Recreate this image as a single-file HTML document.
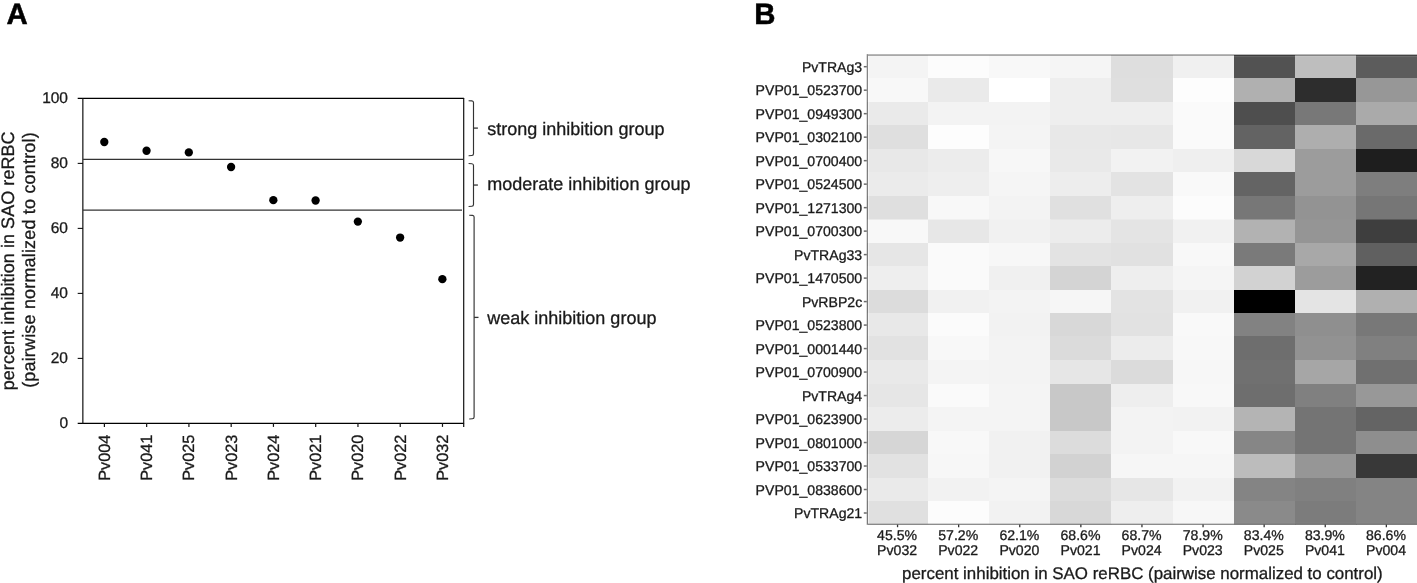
<!DOCTYPE html>
<html><head><meta charset="utf-8"><title>Figure</title>
<style>html,body{margin:0;padding:0;background:#fff;}body{width:1417px;height:583px;overflow:hidden;}svg{display:block;}text{font-family:"Liberation Sans",sans-serif;fill:#1a1a1a;stroke:#1a1a1a;stroke-width:0.3px;text-rendering:geometricPrecision;}.t18{font-size:18px}.t16{font-size:15.5px}.t14{font-size:14.1px}.t17{font-size:16.9px}.b{font-size:29.4px;font-weight:bold;fill:#000;stroke:#000;stroke-width:0.5px}</style></head><body>
<svg width="1417" height="583" viewBox="0 0 1417 583">
<rect width="1417" height="583" fill="#fff"/>
<text class="b" x="6.4" y="24.2">A</text>
<text class="b" x="754.2" y="24.2">B</text>
<g stroke="#000" stroke-width="1.25" fill="none">
<path d="M77.7 98.4 H464.1"/>
<path d="M77.7 423.4 H464.1"/>
</g>
<g stroke="#111" stroke-width="1.2" fill="none">
<path d="M82.85 98 V424"/>
<path d="M463.7 98 V426.9"/>
<path d="M77.7 358.40 H83" stroke-width="1.1"/>
<path d="M77.7 293.40 H83" stroke-width="1.1"/>
<path d="M77.7 228.40 H83" stroke-width="1.1"/>
<path d="M77.7 163.40 H83" stroke-width="1.1"/>
<path d="M104.40 423 V426.9"/>
<path d="M146.66 423 V426.9"/>
<path d="M188.92 423 V426.9"/>
<path d="M231.18 423 V426.9"/>
<path d="M273.44 423 V426.9"/>
<path d="M315.70 423 V426.9"/>
<path d="M357.96 423 V426.9"/>
<path d="M400.22 423 V426.9"/>
<path d="M442.48 423 V426.9"/>
</g>
<g stroke="#333" stroke-width="1.2" fill="none">
<path d="M83 159.4 H463.5"/>
<path d="M83 210.05 H462"/>
</g>
<g stroke="#333" stroke-width="1.15" fill="none">
<path d="M468.6 100.7 L471.9 100.9 Q473.5 101.0 473.5 102.6 V153.8 Q473.5 155.4 471.9 155.5 L468.6 155.7"/><path stroke-width="1.3" d="M473.5 128.10 H477.9"/>
<path d="M468.6 163.5 L471.9 163.7 Q473.5 163.8 473.5 165.4 V204.6 Q473.5 206.2 471.9 206.3 L468.6 206.5"/><path stroke-width="1.3" d="M473.5 185.05 H477.9"/>
<path d="M469.2 215.2 L472.5 215.4 Q474.1 215.5 474.1 217.1 V417.1 Q474.1 418.7 472.5 418.8 L469.2 419.0"/><path stroke-width="1.3" d="M474.1 317.40 H478.5"/>
</g>
<g fill="#000">
<circle cx="104.30" cy="142.00" r="4.15"/>
<circle cx="146.56" cy="150.77" r="4.15"/>
<circle cx="188.82" cy="152.40" r="4.15"/>
<circle cx="231.08" cy="167.02" r="4.15"/>
<circle cx="273.34" cy="200.17" r="4.15"/>
<circle cx="315.60" cy="200.50" r="4.15"/>
<circle cx="357.86" cy="221.62" r="4.15"/>
<circle cx="400.12" cy="237.55" r="4.15"/>
<circle cx="442.38" cy="279.15" r="4.15"/>
</g>
<text class="t16" x="68.0" y="428.05" text-anchor="end">0</text>
<text class="t16" x="68.0" y="363.05" text-anchor="end">20</text>
<text class="t16" x="68.0" y="298.05" text-anchor="end">40</text>
<text class="t16" x="68.0" y="233.05" text-anchor="end">60</text>
<text class="t16" x="68.0" y="168.05" text-anchor="end">80</text>
<text class="t16" x="68.0" y="103.05" text-anchor="end">100</text>
<text style="font-size:16.3px" transform="translate(109.90 434.6) rotate(-90)" text-anchor="end">Pv004</text>
<text style="font-size:16.3px" transform="translate(152.16 434.6) rotate(-90)" text-anchor="end">Pv041</text>
<text style="font-size:16.3px" transform="translate(194.42 434.6) rotate(-90)" text-anchor="end">Pv025</text>
<text style="font-size:16.3px" transform="translate(236.68 434.6) rotate(-90)" text-anchor="end">Pv023</text>
<text style="font-size:16.3px" transform="translate(278.94 434.6) rotate(-90)" text-anchor="end">Pv024</text>
<text style="font-size:16.3px" transform="translate(321.20 434.6) rotate(-90)" text-anchor="end">Pv021</text>
<text style="font-size:16.3px" transform="translate(363.46 434.6) rotate(-90)" text-anchor="end">Pv020</text>
<text style="font-size:16.3px" transform="translate(405.72 434.6) rotate(-90)" text-anchor="end">Pv022</text>
<text style="font-size:16.3px" transform="translate(447.98 434.6) rotate(-90)" text-anchor="end">Pv032</text>
<text class="t18" transform="translate(13.7 260.85) rotate(-90)" text-anchor="middle" textLength="258.85">percent inhibition in SAO reRBC</text>
<text class="t18" transform="translate(34.8 260.1) rotate(-90)" text-anchor="middle" textLength="255.55">(pairwise normalized to control)</text>
<text class="t18" x="487.3" y="135.4">strong inhibition group</text>
<text class="t18" x="487.3" y="189.7">moderate inhibition group</text>
<text class="t18" x="487.3" y="323.5">weak inhibition group</text>
<g>
<rect x="867" y="55" width="62" height="24" fill="#F4F4F4"/>
<rect x="928" y="55" width="62" height="24" fill="#FCFCFC"/>
<rect x="989" y="55" width="62" height="24" fill="#F8F8F8"/>
<rect x="1050" y="55" width="62" height="24" fill="#F5F5F5"/>
<rect x="1111" y="55" width="63" height="24" fill="#DEDEDE"/>
<rect x="1173" y="55" width="62" height="24" fill="#F0F0F0"/>
<rect x="1234" y="55" width="62" height="24" fill="#525252"/>
<rect x="1295" y="55" width="62" height="24" fill="#BEBEBE"/>
<rect x="1356" y="55" width="62" height="24" fill="#5C5C5C"/>
<rect x="867" y="78" width="62" height="25" fill="#F8F8F8"/>
<rect x="928" y="78" width="62" height="25" fill="#EAEAEA"/>
<rect x="989" y="78" width="62" height="25" fill="#FFFFFF"/>
<rect x="1050" y="78" width="62" height="25" fill="#EEEEEE"/>
<rect x="1111" y="78" width="63" height="25" fill="#DFDFDF"/>
<rect x="1173" y="78" width="62" height="25" fill="#FDFDFD"/>
<rect x="1234" y="78" width="62" height="25" fill="#B0B0B0"/>
<rect x="1295" y="78" width="62" height="25" fill="#2D2D2D"/>
<rect x="1356" y="78" width="62" height="25" fill="#979797"/>
<rect x="867" y="102" width="62" height="24" fill="#EAEAEA"/>
<rect x="928" y="102" width="62" height="24" fill="#F3F3F3"/>
<rect x="989" y="102" width="62" height="24" fill="#F3F3F3"/>
<rect x="1050" y="102" width="62" height="24" fill="#EEEEEE"/>
<rect x="1111" y="102" width="63" height="24" fill="#EEEEEE"/>
<rect x="1173" y="102" width="62" height="24" fill="#FAFAFA"/>
<rect x="1234" y="102" width="62" height="24" fill="#4E4E4E"/>
<rect x="1295" y="102" width="62" height="24" fill="#787878"/>
<rect x="1356" y="102" width="62" height="24" fill="#AAAAAA"/>
<rect x="867" y="125" width="62" height="25" fill="#DFDFDF"/>
<rect x="928" y="125" width="62" height="25" fill="#FDFDFD"/>
<rect x="989" y="125" width="62" height="25" fill="#F4F4F4"/>
<rect x="1050" y="125" width="62" height="25" fill="#E8E8E8"/>
<rect x="1111" y="125" width="63" height="25" fill="#E7E7E7"/>
<rect x="1173" y="125" width="62" height="25" fill="#FAFAFA"/>
<rect x="1234" y="125" width="62" height="25" fill="#636363"/>
<rect x="1295" y="125" width="62" height="25" fill="#AEAEAE"/>
<rect x="1356" y="125" width="62" height="25" fill="#6A6A6A"/>
<rect x="867" y="149" width="62" height="24" fill="#E8E8E8"/>
<rect x="928" y="149" width="62" height="24" fill="#ECECEC"/>
<rect x="989" y="149" width="62" height="24" fill="#F7F7F7"/>
<rect x="1050" y="149" width="62" height="24" fill="#E9E9E9"/>
<rect x="1111" y="149" width="63" height="24" fill="#F2F2F2"/>
<rect x="1173" y="149" width="62" height="24" fill="#EFEFEF"/>
<rect x="1234" y="149" width="62" height="24" fill="#D8D8D8"/>
<rect x="1295" y="149" width="62" height="24" fill="#9C9C9C"/>
<rect x="1356" y="149" width="62" height="24" fill="#1E1E1E"/>
<rect x="867" y="172" width="62" height="25" fill="#EBEBEB"/>
<rect x="928" y="172" width="62" height="25" fill="#EEEEEE"/>
<rect x="989" y="172" width="62" height="25" fill="#F5F5F5"/>
<rect x="1050" y="172" width="62" height="25" fill="#EDEDED"/>
<rect x="1111" y="172" width="63" height="25" fill="#E3E3E3"/>
<rect x="1173" y="172" width="62" height="25" fill="#F9F9F9"/>
<rect x="1234" y="172" width="62" height="25" fill="#646464"/>
<rect x="1295" y="172" width="62" height="25" fill="#9C9C9C"/>
<rect x="1356" y="172" width="62" height="25" fill="#7E7E7E"/>
<rect x="867" y="196" width="62" height="24.5" fill="#DFDFDF"/>
<rect x="928" y="196" width="62" height="24.5" fill="#F8F8F8"/>
<rect x="989" y="196" width="62" height="24.5" fill="#F3F3F3"/>
<rect x="1050" y="196" width="62" height="24.5" fill="#E0E0E0"/>
<rect x="1111" y="196" width="63" height="24.5" fill="#EEEEEE"/>
<rect x="1173" y="196" width="62" height="24.5" fill="#FCFCFC"/>
<rect x="1234" y="196" width="62" height="24.5" fill="#777777"/>
<rect x="1295" y="196" width="62" height="24.5" fill="#939393"/>
<rect x="1356" y="196" width="62" height="24.5" fill="#767676"/>
<rect x="867" y="219.5" width="62" height="24.5" fill="#F8F8F8"/>
<rect x="928" y="219.5" width="62" height="24.5" fill="#E7E7E7"/>
<rect x="989" y="219.5" width="62" height="24.5" fill="#F1F1F1"/>
<rect x="1050" y="219.5" width="62" height="24.5" fill="#ECECEC"/>
<rect x="1111" y="219.5" width="63" height="24.5" fill="#E4E4E4"/>
<rect x="1173" y="219.5" width="62" height="24.5" fill="#F1F1F1"/>
<rect x="1234" y="219.5" width="62" height="24.5" fill="#B2B2B2"/>
<rect x="1295" y="219.5" width="62" height="24.5" fill="#959595"/>
<rect x="1356" y="219.5" width="62" height="24.5" fill="#3E3E3E"/>
<rect x="867" y="243" width="62" height="24" fill="#E6E6E6"/>
<rect x="928" y="243" width="62" height="24" fill="#FAFAFA"/>
<rect x="989" y="243" width="62" height="24" fill="#F7F7F7"/>
<rect x="1050" y="243" width="62" height="24" fill="#E3E3E3"/>
<rect x="1111" y="243" width="63" height="24" fill="#E1E1E1"/>
<rect x="1173" y="243" width="62" height="24" fill="#F8F8F8"/>
<rect x="1234" y="243" width="62" height="24" fill="#7A7A7A"/>
<rect x="1295" y="243" width="62" height="24" fill="#A8A8A8"/>
<rect x="1356" y="243" width="62" height="24" fill="#606060"/>
<rect x="867" y="266" width="62" height="25" fill="#EEEEEE"/>
<rect x="928" y="266" width="62" height="25" fill="#FAFAFA"/>
<rect x="989" y="266" width="62" height="25" fill="#F0F0F0"/>
<rect x="1050" y="266" width="62" height="25" fill="#D4D4D4"/>
<rect x="1111" y="266" width="63" height="25" fill="#EEEEEE"/>
<rect x="1173" y="266" width="62" height="25" fill="#F5F5F5"/>
<rect x="1234" y="266" width="62" height="25" fill="#D2D2D2"/>
<rect x="1295" y="266" width="62" height="25" fill="#9C9C9C"/>
<rect x="1356" y="266" width="62" height="25" fill="#222222"/>
<rect x="867" y="290" width="62" height="24" fill="#DCDCDC"/>
<rect x="928" y="290" width="62" height="24" fill="#F1F1F1"/>
<rect x="989" y="290" width="62" height="24" fill="#F3F3F3"/>
<rect x="1050" y="290" width="62" height="24" fill="#F6F6F6"/>
<rect x="1111" y="290" width="63" height="24" fill="#E3E3E3"/>
<rect x="1173" y="290" width="62" height="24" fill="#F1F1F1"/>
<rect x="1234" y="290" width="62" height="24" fill="#000000"/>
<rect x="1295" y="290" width="62" height="24" fill="#E4E4E4"/>
<rect x="1356" y="290" width="62" height="24" fill="#B0B0B0"/>
<rect x="867" y="313" width="62" height="24" fill="#E8E8E8"/>
<rect x="928" y="313" width="62" height="24" fill="#FBFBFB"/>
<rect x="989" y="313" width="62" height="24" fill="#F2F2F2"/>
<rect x="1050" y="313" width="62" height="24" fill="#D8D8D8"/>
<rect x="1111" y="313" width="63" height="24" fill="#E2E2E2"/>
<rect x="1173" y="313" width="62" height="24" fill="#F9F9F9"/>
<rect x="1234" y="313" width="62" height="24" fill="#828282"/>
<rect x="1295" y="313" width="62" height="24" fill="#8F8F8F"/>
<rect x="1356" y="313" width="62" height="24" fill="#787878"/>
<rect x="867" y="336" width="62" height="25" fill="#E2E2E2"/>
<rect x="928" y="336" width="62" height="25" fill="#F8F8F8"/>
<rect x="989" y="336" width="62" height="25" fill="#F3F3F3"/>
<rect x="1050" y="336" width="62" height="25" fill="#DBDBDB"/>
<rect x="1111" y="336" width="63" height="25" fill="#ECECEC"/>
<rect x="1173" y="336" width="62" height="25" fill="#F8F8F8"/>
<rect x="1234" y="336" width="62" height="25" fill="#6E6E6E"/>
<rect x="1295" y="336" width="62" height="25" fill="#929292"/>
<rect x="1356" y="336" width="62" height="25" fill="#808080"/>
<rect x="867" y="360" width="62" height="25" fill="#E9E9E9"/>
<rect x="928" y="360" width="62" height="25" fill="#F4F4F4"/>
<rect x="989" y="360" width="62" height="25" fill="#F3F3F3"/>
<rect x="1050" y="360" width="62" height="25" fill="#E6E6E6"/>
<rect x="1111" y="360" width="63" height="25" fill="#DBDBDB"/>
<rect x="1173" y="360" width="62" height="25" fill="#F7F7F7"/>
<rect x="1234" y="360" width="62" height="25" fill="#707070"/>
<rect x="1295" y="360" width="62" height="25" fill="#A6A6A6"/>
<rect x="1356" y="360" width="62" height="25" fill="#707070"/>
<rect x="867" y="384" width="62" height="24" fill="#E6E6E6"/>
<rect x="928" y="384" width="62" height="24" fill="#FAFAFA"/>
<rect x="989" y="384" width="62" height="24" fill="#F4F4F4"/>
<rect x="1050" y="384" width="62" height="24" fill="#C8C8C8"/>
<rect x="1111" y="384" width="63" height="24" fill="#EEEEEE"/>
<rect x="1173" y="384" width="62" height="24" fill="#F8F8F8"/>
<rect x="1234" y="384" width="62" height="24" fill="#6E6E6E"/>
<rect x="1295" y="384" width="62" height="24" fill="#808080"/>
<rect x="1356" y="384" width="62" height="24" fill="#989898"/>
<rect x="867" y="407" width="62" height="25" fill="#ECECEC"/>
<rect x="928" y="407" width="62" height="25" fill="#F4F4F4"/>
<rect x="989" y="407" width="62" height="25" fill="#F4F4F4"/>
<rect x="1050" y="407" width="62" height="25" fill="#C8C8C8"/>
<rect x="1111" y="407" width="63" height="25" fill="#F3F3F3"/>
<rect x="1173" y="407" width="62" height="25" fill="#F2F2F2"/>
<rect x="1234" y="407" width="62" height="25" fill="#B4B4B4"/>
<rect x="1295" y="407" width="62" height="25" fill="#747474"/>
<rect x="1356" y="407" width="62" height="25" fill="#646464"/>
<rect x="867" y="431" width="62" height="24" fill="#D6D6D6"/>
<rect x="928" y="431" width="62" height="24" fill="#F8F8F8"/>
<rect x="989" y="431" width="62" height="24" fill="#F1F1F1"/>
<rect x="1050" y="431" width="62" height="24" fill="#DCDCDC"/>
<rect x="1111" y="431" width="63" height="24" fill="#F3F3F3"/>
<rect x="1173" y="431" width="62" height="24" fill="#F8F8F8"/>
<rect x="1234" y="431" width="62" height="24" fill="#868686"/>
<rect x="1295" y="431" width="62" height="24" fill="#747474"/>
<rect x="1356" y="431" width="62" height="24" fill="#8E8E8E"/>
<rect x="867" y="454" width="62" height="25" fill="#E2E2E2"/>
<rect x="928" y="454" width="62" height="25" fill="#F7F7F7"/>
<rect x="989" y="454" width="62" height="25" fill="#F1F1F1"/>
<rect x="1050" y="454" width="62" height="25" fill="#D2D2D2"/>
<rect x="1111" y="454" width="63" height="25" fill="#F6F6F6"/>
<rect x="1173" y="454" width="62" height="25" fill="#F6F6F6"/>
<rect x="1234" y="454" width="62" height="25" fill="#BCBCBC"/>
<rect x="1295" y="454" width="62" height="25" fill="#969696"/>
<rect x="1356" y="454" width="62" height="25" fill="#383838"/>
<rect x="867" y="478" width="62" height="24" fill="#EAEAEA"/>
<rect x="928" y="478" width="62" height="24" fill="#F2F2F2"/>
<rect x="989" y="478" width="62" height="24" fill="#F4F4F4"/>
<rect x="1050" y="478" width="62" height="24" fill="#DCDCDC"/>
<rect x="1111" y="478" width="63" height="24" fill="#E6E6E6"/>
<rect x="1173" y="478" width="62" height="24" fill="#F2F2F2"/>
<rect x="1234" y="478" width="62" height="24" fill="#848484"/>
<rect x="1295" y="478" width="62" height="24" fill="#808080"/>
<rect x="1356" y="478" width="62" height="24" fill="#848484"/>
<rect x="867" y="501" width="62" height="23.3" fill="#E0E0E0"/>
<rect x="928" y="501" width="62" height="23.3" fill="#FCFCFC"/>
<rect x="989" y="501" width="62" height="23.3" fill="#F2F2F2"/>
<rect x="1050" y="501" width="62" height="23.3" fill="#D8D8D8"/>
<rect x="1111" y="501" width="63" height="23.3" fill="#EEEEEE"/>
<rect x="1173" y="501" width="62" height="23.3" fill="#F7F7F7"/>
<rect x="1234" y="501" width="62" height="23.3" fill="#8A8A8A"/>
<rect x="1295" y="501" width="62" height="23.3" fill="#7C7C7C"/>
<rect x="1356" y="501" width="62" height="23.3" fill="#848484"/>
</g>
<rect x="868" y="56" width="550" height="1.1" fill="#fff" fill-opacity="0.1"/>
<rect x="868" y="56" width="1" height="467.7" fill="#fff" fill-opacity="0.5"/>
<rect x="868" y="522.9" width="550" height="0.8" fill="#fff" fill-opacity="0.15"/>
<rect x="868" y="54.1" width="551" height="1.9" fill="#101010" fill-opacity="0.33"/>
<rect x="866.7" y="54.1" width="1.3" height="470.75" fill="#000" fill-opacity="0.46"/>
<rect x="868" y="523.7" width="551" height="1.15" fill="#414141" fill-opacity="0.7"/>
<g stroke="#6a6a6a" stroke-width="1.5" fill="none">
<path d="M863.8 66.70 H866.8"/>
<path d="M863.8 90.19 H866.8"/>
<path d="M863.8 113.67 H866.8"/>
<path d="M863.8 137.16 H866.8"/>
<path d="M863.8 160.66 H866.8"/>
<path d="M863.8 184.15 H866.8"/>
<path d="M863.8 207.64 H866.8"/>
<path d="M863.8 231.12 H866.8"/>
<path d="M863.8 254.61 H866.8"/>
<path d="M863.8 278.10 H866.8"/>
<path d="M863.8 301.59 H866.8"/>
<path d="M863.8 325.08 H866.8"/>
<path d="M863.8 348.57 H866.8"/>
<path d="M863.8 372.06 H866.8"/>
<path d="M863.8 395.55 H866.8"/>
<path d="M863.8 419.04 H866.8"/>
<path d="M863.8 442.53 H866.8"/>
<path d="M863.8 466.02 H866.8"/>
<path d="M863.8 489.51 H866.8"/>
<path d="M863.8 513.00 H866.8"/>
</g>
<g stroke="#333" stroke-width="1.3" fill="none">
<path d="M897.55 524.6 V527.2"/>
<path d="M958.65 524.6 V527.2"/>
<path d="M1019.75 524.6 V527.2"/>
<path d="M1080.85 524.6 V527.2"/>
<path d="M1141.95 524.6 V527.2"/>
<path d="M1203.05 524.6 V527.2"/>
<path d="M1264.15 524.6 V527.2"/>
<path d="M1325.25 524.6 V527.2"/>
<path d="M1386.35 524.6 V527.2"/>
</g>
<text class="t14" x="862.2" y="71.8" text-anchor="end">PvTRAg3</text>
<text class="t14" x="862.2" y="95.3" text-anchor="end">PVP01_0523700</text>
<text class="t14" x="862.2" y="118.8" text-anchor="end">PVP01_0949300</text>
<text class="t14" x="862.2" y="142.3" text-anchor="end">PVP01_0302100</text>
<text class="t14" x="862.2" y="165.8" text-anchor="end">PVP01_0700400</text>
<text class="t14" x="862.2" y="189.2" text-anchor="end">PVP01_0524500</text>
<text class="t14" x="862.2" y="212.7" text-anchor="end">PVP01_1271300</text>
<text class="t14" x="862.2" y="236.2" text-anchor="end">PVP01_0700300</text>
<text class="t14" x="862.2" y="259.7" text-anchor="end">PvTRAg33</text>
<text class="t14" x="862.2" y="283.2" text-anchor="end">PVP01_1470500</text>
<text class="t14" x="862.2" y="306.7" text-anchor="end">PvRBP2c</text>
<text class="t14" x="862.2" y="330.2" text-anchor="end">PVP01_0523800</text>
<text class="t14" x="862.2" y="353.7" text-anchor="end">PVP01_0001440</text>
<text class="t14" x="862.2" y="377.2" text-anchor="end">PVP01_0700900</text>
<text class="t14" x="862.2" y="400.7" text-anchor="end">PvTRAg4</text>
<text class="t14" x="862.2" y="424.1" text-anchor="end">PVP01_0623900</text>
<text class="t14" x="862.2" y="447.6" text-anchor="end">PVP01_0801000</text>
<text class="t14" x="862.2" y="471.1" text-anchor="end">PVP01_0533700</text>
<text class="t14" x="862.2" y="494.6" text-anchor="end">PVP01_0838600</text>
<text class="t14" x="862.2" y="518.1" text-anchor="end">PvTRAg21</text>
<text class="t14" x="897.1" y="540.2" text-anchor="middle">45.5%</text>
<text class="t14" x="897.1" y="554.6" text-anchor="middle">Pv032</text>
<text class="t14" x="958.2" y="540.2" text-anchor="middle">57.2%</text>
<text class="t14" x="958.2" y="554.6" text-anchor="middle">Pv022</text>
<text class="t14" x="1019.4" y="540.2" text-anchor="middle">62.1%</text>
<text class="t14" x="1019.4" y="554.6" text-anchor="middle">Pv020</text>
<text class="t14" x="1080.5" y="540.2" text-anchor="middle">68.6%</text>
<text class="t14" x="1080.5" y="554.6" text-anchor="middle">Pv021</text>
<text class="t14" x="1141.6" y="540.2" text-anchor="middle">68.7%</text>
<text class="t14" x="1141.6" y="554.6" text-anchor="middle">Pv024</text>
<text class="t14" x="1202.7" y="540.2" text-anchor="middle">78.9%</text>
<text class="t14" x="1202.7" y="554.6" text-anchor="middle">Pv023</text>
<text class="t14" x="1263.8" y="540.2" text-anchor="middle">83.4%</text>
<text class="t14" x="1263.8" y="554.6" text-anchor="middle">Pv025</text>
<text class="t14" x="1324.9" y="540.2" text-anchor="middle">83.9%</text>
<text class="t14" x="1324.9" y="554.6" text-anchor="middle">Pv041</text>
<text class="t14" x="1386.0" y="540.2" text-anchor="middle">86.6%</text>
<text class="t14" x="1386.0" y="554.6" text-anchor="middle">Pv004</text>
<text class="t17" x="1142.4" y="578.8" text-anchor="middle">percent inhibition in SAO reRBC (pairwise normalized to control)</text>
</svg></body></html>
